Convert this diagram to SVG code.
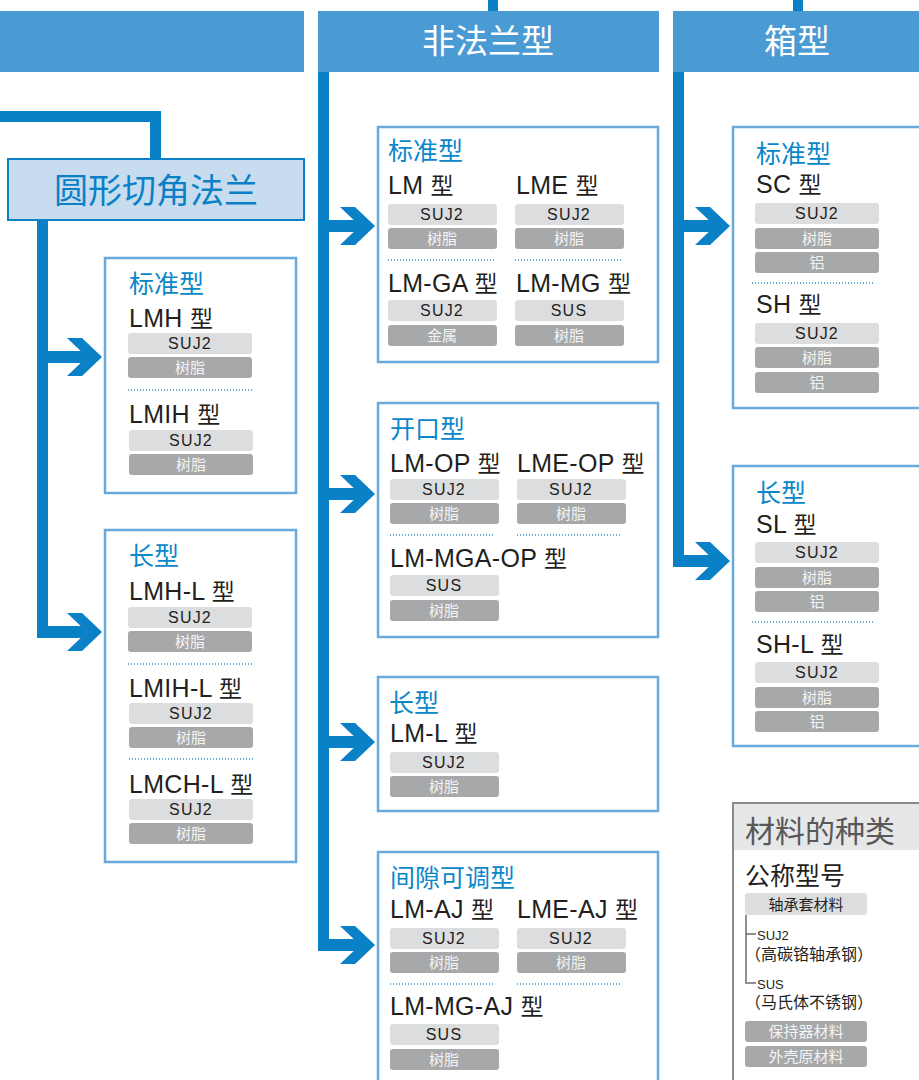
<svg xmlns="http://www.w3.org/2000/svg" width="919" height="1080" viewBox="0 0 919 1080">
<defs>
<style>
.hdr{fill:#4a9ad4}
.ln{fill:#0a80c6}
.box{fill:#fff;stroke:#6aa9dc;stroke-width:2.5}
.tl{fill:#dcdddf}
.td{fill:#a7a8aa}
.dot{stroke:#3a8fd0;stroke-width:1.5;stroke-dasharray:1 2;fill:none}
.f{font-family:"Liberation Sans","Noto Sans CJK SC",sans-serif}
.ht{font-size:33px;fill:#fff;text-anchor:middle}
.ttl{font-size:25px;fill:#0a87c9}
.mdl{font-size:25px;fill:#231f20;letter-spacing:0.3px}
.xing{font-size:23px;letter-spacing:0}
.tt{font-size:16px;fill:#231f20;text-anchor:middle;letter-spacing:1.2px}
.tw{font-size:15px;fill:#f4f4f4;text-anchor:middle}
.lg{fill:none;stroke:#6d6e70;stroke-width:1.5}
</style>
<polygon id="chev" points="-35,-19 -20,-19 0,0 -20,19 -35,19 -15,0"/>
</defs>
<rect width="919" height="1080" fill="#fff"/>

<g id="headers" class="f">
<rect class="hdr" x="0" y="11" width="304" height="61"/>
<rect class="hdr" x="318" y="11" width="341" height="61"/>
<rect class="ln" x="488" y="0" width="10" height="11"/>
<text class="ht" x="488" y="53">非法兰型</text>
<rect class="hdr" x="673" y="11" width="246" height="61"/>
<rect class="ln" x="793" y="0" width="10" height="11"/>
<text class="ht" x="797" y="53">箱型</text>
</g>

<g id="connectors" class="ln">
<rect x="0" y="111" width="161" height="11"/>
<rect x="150" y="111" width="11" height="48"/>
<rect x="37" y="220" width="11" height="418"/>
<rect x="48" y="351" width="40" height="12"/>
<use href="#chev" x="102" y="357"/>
<rect x="48" y="626" width="40" height="12"/>
<use href="#chev" x="102" y="632"/>
<rect x="318" y="72" width="11" height="879"/>
<rect x="329" y="220" width="33" height="12"/>
<use href="#chev" x="375" y="226"/>
<rect x="329" y="488" width="33" height="12"/>
<use href="#chev" x="375" y="494"/>
<rect x="329" y="736" width="33" height="12"/>
<use href="#chev" x="375" y="742"/>
<rect x="329" y="939" width="33" height="12"/>
<use href="#chev" x="375" y="945"/>
<rect x="673" y="72" width="11" height="495"/>
<rect x="684" y="220" width="33" height="12"/>
<use href="#chev" x="730" y="226"/>
<rect x="684" y="555" width="33" height="12"/>
<use href="#chev" x="730" y="561"/>
</g>

<g id="node-round" class="f">
<rect x="8" y="159" width="296" height="61" fill="#c8dcf0" stroke="#0a80c6" stroke-width="2"/>
<text x="156" y="203" font-size="34" fill="#0a80c6" text-anchor="middle">圆形切角法兰</text>
</g>

<g id="node-left-std" class="f">
<rect class="box" x="105" y="258" width="191" height="235"/>
<text class="ttl" x="129" y="293">标准型</text>
<text class="mdl" x="129" y="327">LMH <tspan class="xing">型</tspan></text>
<rect class="tl" x="128" y="333" width="124" height="21" rx="3"/><text class="tt" x="190" y="349">SUJ2</text>
<rect class="td" x="128" y="357" width="124" height="21" rx="3"/><text class="tw" x="190" y="373">树脂</text>
<line class="dot" x1="128" y1="390" x2="252" y2="390"/>
<text class="mdl" x="129" y="423">LMIH <tspan class="xing">型</tspan></text>
<rect class="tl" x="129" y="430" width="124" height="21" rx="3"/><text class="tt" x="191" y="446">SUJ2</text>
<rect class="td" x="129" y="454" width="124" height="21" rx="3"/><text class="tw" x="191" y="470">树脂</text>
</g>

<g id="node-left-long" class="f">
<rect class="box" x="105" y="530" width="191" height="332"/>
<text class="ttl" x="129" y="565">长型</text>
<text class="mdl" x="129" y="600">LMH-L <tspan class="xing">型</tspan></text>
<rect class="tl" x="128" y="607" width="124" height="21" rx="3"/><text class="tt" x="190" y="623">SUJ2</text>
<rect class="td" x="128" y="631" width="124" height="21" rx="3"/><text class="tw" x="190" y="647">树脂</text>
<line class="dot" x1="128" y1="664" x2="252" y2="664"/>
<text class="mdl" x="129" y="697">LMIH-L <tspan class="xing">型</tspan></text>
<rect class="tl" x="129" y="703" width="124" height="21" rx="3"/><text class="tt" x="191" y="719">SUJ2</text>
<rect class="td" x="129" y="727" width="124" height="21" rx="3"/><text class="tw" x="191" y="743">树脂</text>
<line class="dot" x1="129" y1="759" x2="253" y2="759"/>
<text class="mdl" x="129" y="793">LMCH-L <tspan class="xing">型</tspan></text>
<rect class="tl" x="129" y="799" width="124" height="21" rx="3"/><text class="tt" x="191" y="815">SUJ2</text>
<rect class="td" x="129" y="823" width="124" height="21" rx="3"/><text class="tw" x="191" y="839">树脂</text>
</g>

<g id="node-mid-std" class="f">
<rect class="box" x="378" y="127" width="280" height="235"/>
<text class="ttl" x="388" y="160">标准型</text>
<text class="mdl" x="388" y="194">LM <tspan class="xing">型</tspan></text>
<text class="mdl" x="516" y="194">LME <tspan class="xing">型</tspan></text>
<rect class="tl" x="388" y="204" width="109" height="21" rx="3"/><text class="tt" x="442" y="220">SUJ2</text>
<rect class="td" x="388" y="228" width="109" height="21" rx="3"/><text class="tw" x="442" y="244">树脂</text>
<rect class="tl" x="515" y="204" width="109" height="21" rx="3"/><text class="tt" x="569" y="220">SUJ2</text>
<rect class="td" x="515" y="228" width="109" height="21" rx="3"/><text class="tw" x="569" y="244">树脂</text>
<line class="dot" x1="388" y1="260" x2="494" y2="260"/>
<line class="dot" x1="515" y1="260" x2="621" y2="260"/>
<text class="mdl" x="388" y="292">LM-GA <tspan class="xing">型</tspan></text>
<text class="mdl" x="516" y="292">LM-MG <tspan class="xing">型</tspan></text>
<rect class="tl" x="388" y="300" width="109" height="21" rx="3"/><text class="tt" x="442" y="316">SUJ2</text>
<rect class="td" x="388" y="325" width="109" height="21" rx="3"/><text class="tw" x="442" y="341">金属</text>
<rect class="tl" x="515" y="300" width="109" height="21" rx="3"/><text class="tt" x="569" y="316">SUS</text>
<rect class="td" x="515" y="325" width="109" height="21" rx="3"/><text class="tw" x="569" y="341">树脂</text>
</g>

<g id="node-mid-open" class="f">
<rect class="box" x="378" y="403" width="280" height="234"/>
<text class="ttl" x="390" y="438">开口型</text>
<text class="mdl" x="390" y="472">LM-OP <tspan class="xing">型</tspan></text>
<text class="mdl" x="517" y="472">LME-OP <tspan class="xing">型</tspan></text>
<rect class="tl" x="390" y="479" width="109" height="21" rx="3"/><text class="tt" x="444" y="495">SUJ2</text>
<rect class="td" x="390" y="503" width="109" height="21" rx="3"/><text class="tw" x="444" y="519">树脂</text>
<rect class="tl" x="517" y="479" width="109" height="21" rx="3"/><text class="tt" x="571" y="495">SUJ2</text>
<rect class="td" x="517" y="503" width="109" height="21" rx="3"/><text class="tw" x="571" y="519">树脂</text>
<line class="dot" x1="390" y1="535" x2="495" y2="535"/>
<line class="dot" x1="517" y1="535" x2="622" y2="535"/>
<text class="mdl" x="390" y="567">LM-MGA-OP <tspan class="xing">型</tspan></text>
<rect class="tl" x="390" y="575" width="109" height="21" rx="3"/><text class="tt" x="444" y="591">SUS</text>
<rect class="td" x="390" y="600" width="109" height="21" rx="3"/><text class="tw" x="444" y="616">树脂</text>
</g>

<g id="node-mid-long" class="f">
<rect class="box" x="378" y="677" width="280" height="134"/>
<text class="ttl" x="389" y="712">长型</text>
<text class="mdl" x="390" y="742">LM-L <tspan class="xing">型</tspan></text>
<rect class="tl" x="390" y="752" width="109" height="21" rx="3"/><text class="tt" x="444" y="768">SUJ2</text>
<rect class="td" x="390" y="776" width="109" height="21" rx="3"/><text class="tw" x="444" y="792">树脂</text>
</g>

<g id="node-mid-adj" class="f">
<rect class="box" x="378" y="852" width="280" height="240"/>
<text class="ttl" x="390" y="887">间隙可调型</text>
<text class="mdl" x="390" y="918">LM-AJ <tspan class="xing">型</tspan></text>
<text class="mdl" x="517" y="918">LME-AJ <tspan class="xing">型</tspan></text>
<rect class="tl" x="390" y="928" width="109" height="21" rx="3"/><text class="tt" x="444" y="944">SUJ2</text>
<rect class="td" x="390" y="952" width="109" height="21" rx="3"/><text class="tw" x="444" y="968">树脂</text>
<rect class="tl" x="517" y="928" width="109" height="21" rx="3"/><text class="tt" x="571" y="944">SUJ2</text>
<rect class="td" x="517" y="952" width="109" height="21" rx="3"/><text class="tw" x="571" y="968">树脂</text>
<line class="dot" x1="390" y1="984" x2="495" y2="984"/>
<line class="dot" x1="517" y1="984" x2="622" y2="984"/>
<text class="mdl" x="390" y="1015">LM-MG-AJ <tspan class="xing">型</tspan></text>
<rect class="tl" x="390" y="1024" width="109" height="21" rx="3"/><text class="tt" x="444" y="1040">SUS</text>
<rect class="td" x="390" y="1049" width="109" height="21" rx="3"/><text class="tw" x="444" y="1065">树脂</text>
</g>

<g id="node-right-std" class="f">
<rect class="box" x="733" y="127" width="200" height="281"/>
<text class="ttl" x="756" y="163">标准型</text>
<text class="mdl" x="756" y="193">SC <tspan class="xing">型</tspan></text>
<rect class="tl" x="755" y="203" width="124" height="21" rx="3"/><text class="tt" x="817" y="219">SUJ2</text>
<rect class="td" x="755" y="228" width="124" height="21" rx="3"/><text class="tw" x="817" y="244">树脂</text>
<rect class="td" x="755" y="252" width="124" height="21" rx="3"/><text class="tw" x="817" y="268">铝</text>
<line class="dot" x1="752" y1="283" x2="874" y2="283"/>
<text class="mdl" x="756" y="313">SH <tspan class="xing">型</tspan></text>
<rect class="tl" x="755" y="323" width="124" height="21" rx="3"/><text class="tt" x="817" y="339">SUJ2</text>
<rect class="td" x="755" y="347" width="124" height="21" rx="3"/><text class="tw" x="817" y="363">树脂</text>
<rect class="td" x="755" y="372" width="124" height="21" rx="3"/><text class="tw" x="817" y="388">铝</text>
</g>

<g id="node-right-long" class="f">
<rect class="box" x="733" y="466" width="200" height="280"/>
<text class="ttl" x="756" y="502">长型</text>
<text class="mdl" x="756" y="533">SL <tspan class="xing">型</tspan></text>
<rect class="tl" x="755" y="542" width="124" height="21" rx="3"/><text class="tt" x="817" y="558">SUJ2</text>
<rect class="td" x="755" y="567" width="124" height="21" rx="3"/><text class="tw" x="817" y="583">树脂</text>
<rect class="td" x="755" y="591" width="124" height="21" rx="3"/><text class="tw" x="817" y="607">铝</text>
<line class="dot" x1="752" y1="622" x2="874" y2="622"/>
<text class="mdl" x="756" y="653">SH-L <tspan class="xing">型</tspan></text>
<rect class="tl" x="755" y="662" width="124" height="21" rx="3"/><text class="tt" x="817" y="678">SUJ2</text>
<rect class="td" x="755" y="687" width="124" height="21" rx="3"/><text class="tw" x="817" y="703">树脂</text>
<rect class="td" x="755" y="711" width="124" height="21" rx="3"/><text class="tw" x="817" y="727">铝</text>
</g>

<g id="legend" class="f">
<rect x="733" y="803" width="200" height="290" fill="#fff" stroke="#8a8b8d" stroke-width="2"/>
<rect x="734" y="804" width="199" height="46" fill="#e6e7e8"/>
<text x="745" y="842" font-size="30" fill="#595757">材料的种类</text>
<text x="745" y="885" font-size="25" fill="#231f20">公称型号</text>
<rect class="tl" x="745" y="893" width="122" height="22" rx="3"/>
<text x="806" y="910" font-size="15" fill="#231f20" text-anchor="middle">轴承套材料</text>
<path class="lg" d="M746 915 V983 H756 M746 934 H756"/>
<text x="757" y="940" font-size="13" fill="#231f20">SUJ2</text>
<text x="745" y="960" font-size="16" fill="#231f20">（高碳铬轴承钢）</text>
<text x="757" y="989" font-size="13" fill="#231f20">SUS</text>
<text x="745" y="1008" font-size="16" fill="#231f20">（马氏体不锈钢）</text>
<rect class="td" x="745" y="1021" width="122" height="21" rx="3"/>
<text x="806" y="1037" font-size="15" fill="#f4f4f4" text-anchor="middle">保持器材料</text>
<rect class="td" x="745" y="1046" width="122" height="21" rx="3"/>
<text x="806" y="1062" font-size="15" fill="#f4f4f4" text-anchor="middle">外壳原材料</text>
</g>
</svg>
